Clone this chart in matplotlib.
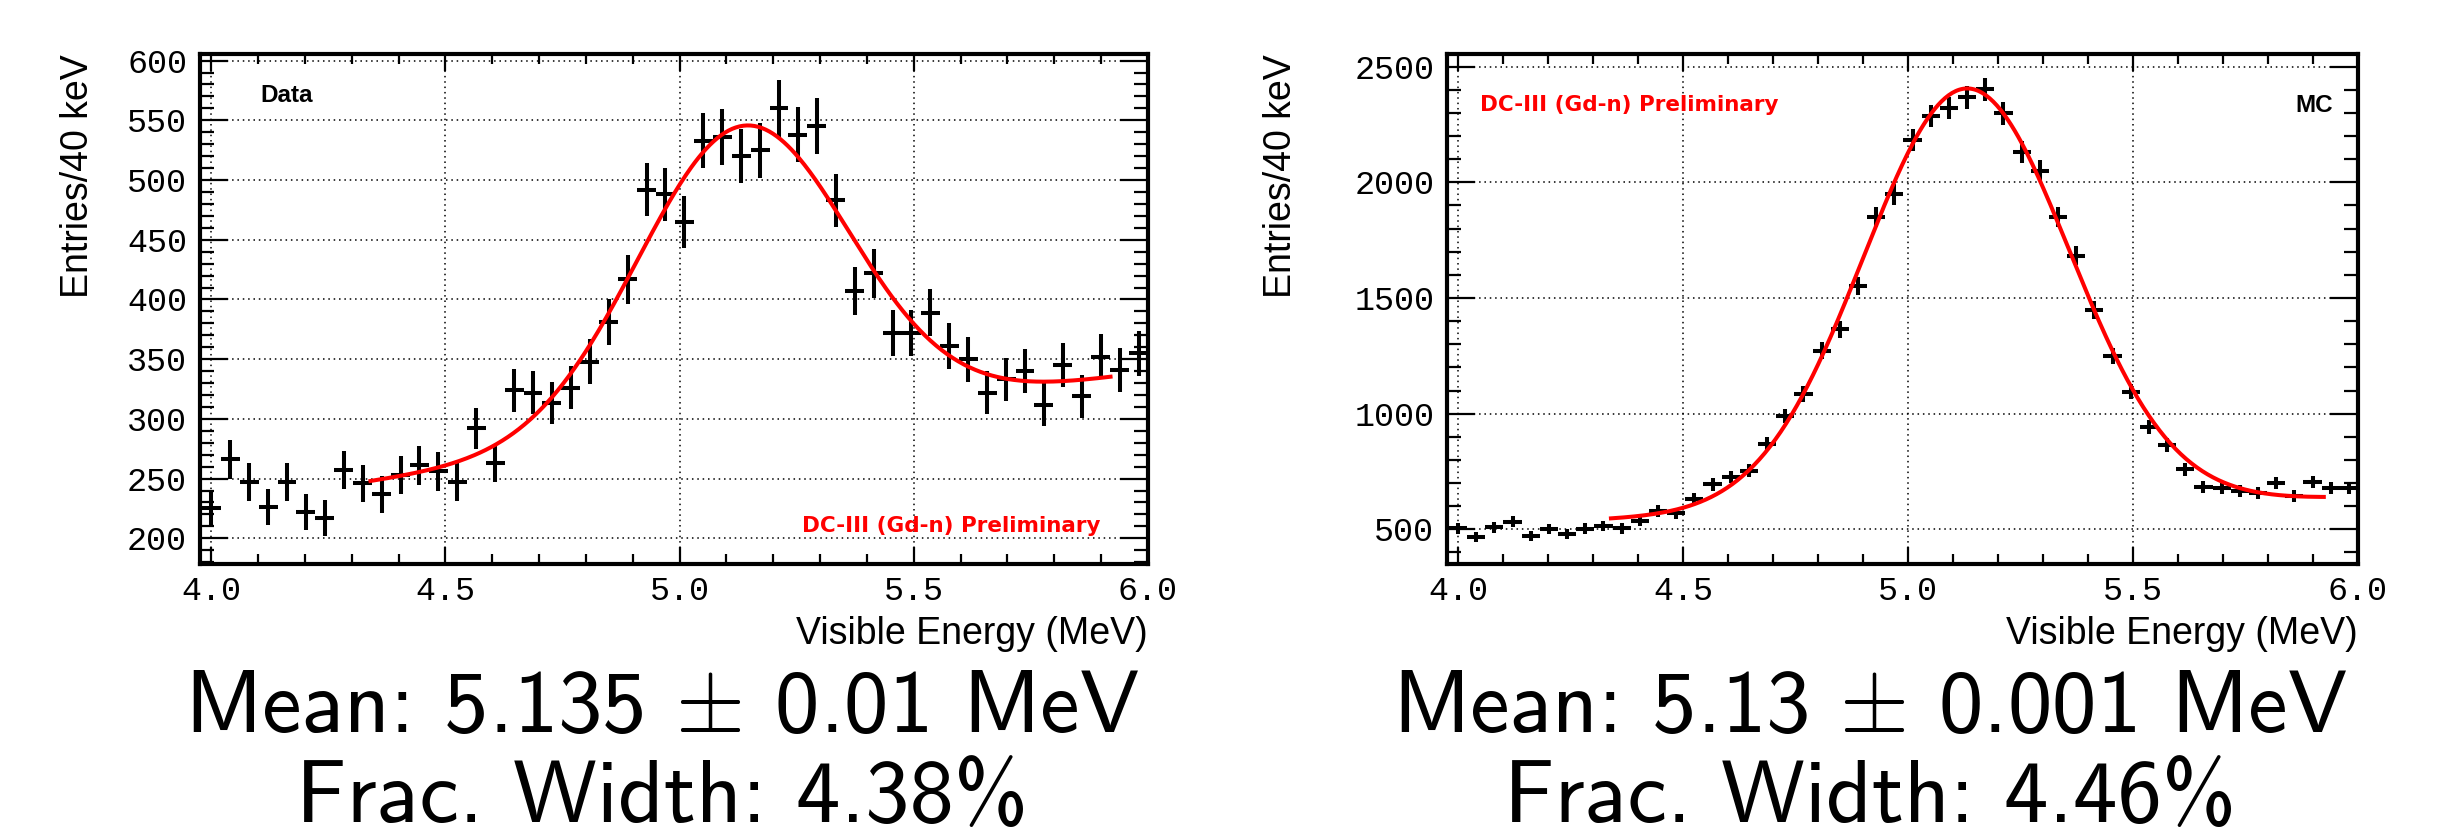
import numpy as np
import matplotlib
matplotlib.use('Agg')
import matplotlib.pyplot as plt
from matplotlib.ticker import MultipleLocator

# Figure size in pixels (saved at 100 dpi)
W, H = 2437, 836
DPI = 100

# Histogram binning: 40 keV bins
BIN_LO, BIN_HI, N_BINS = 3.98, 6.0, 50

# Entries per bin
DATA_COUNTS = [225, 266, 247, 226, 247, 222, 217, 257, 246, 237,
               253, 261, 256, 247, 292, 263, 324, 322, 313, 326,
               348, 381, 417, 492, 488, 465, 533, 536, 520, 525,
               560, 538, 545, 483, 407, 422, 372, 372, 389, 361,
               350, 322, 333, 340, 312, 345, 319, 352, 341, 355]
MC_COUNTS = [504, 468, 508, 533, 471, 500, 480, 503, 514, 504,
             536, 579, 569, 630, 694, 727, 753, 869, 990, 1085,
             1272, 1364, 1552, 1849, 1948, 2183, 2287, 2320, 2368, 2402,
             2298, 2132, 2050, 1851, 1682, 1448, 1249, 1095, 941, 864,
             759, 684, 677, 667, 656, 701, 644, 706, 677, 677]

# Fit results: gaussian + linear background
DATA_MEAN, DATA_MEAN_ERR, DATA_FRAC_WIDTH = 5.135, 0.01, 4.38
MC_MEAN, MC_MEAN_ERR, MC_FRAC_WIDTH = 5.13, 0.001, 4.46
DATA_AMP, DATA_BG0, DATA_BG1 = 254, 291.4, 55.2
MC_AMP, MC_BG0, MC_BG1 = 1817, 589, 58.7
DATA_FIT_RANGE = (4.34, 5.92)
MC_FIT_RANGE = (4.34, 5.924)

X_LIM = (3.975, 6.0)
DATA_Y_LIM = (178.5, 605.5)
MC_Y_LIM = (350, 2555)


def px(x, y):
    """pixel coords (from top-left) -> figure fraction"""
    return x / W, 1 - y / H


def fit_curve(lo, hi, mean, frac_width, amp, bg0, bg1):
    e = np.linspace(lo, hi, 400)
    sigma = frac_width / 100 * mean
    return e, amp * np.exp(-0.5 * ((e - mean) / sigma) ** 2) + bg0 + bg1 * (e - mean)


def draw_panel(ax, counts, ylim, ymajor, yminor, fit):
    edges = np.linspace(BIN_LO, BIN_HI, N_BINS + 1)
    centers = 0.5 * (edges[1:] + edges[:-1])
    half = 0.5 * (edges[1] - edges[0])
    counts = np.array(counts, dtype=float)
    ax.errorbar(centers, counts, xerr=half, yerr=np.sqrt(counts), fmt='none',
                ecolor='black', elinewidth=2.9, capsize=0, zorder=3)
    e, f = fit_curve(*fit)
    ax.plot(e, f, color='#ff0000', lw=2.9, zorder=4)

    ax.set_xlim(*X_LIM)
    ax.set_ylim(*ylim)
    ax.xaxis.set_major_locator(MultipleLocator(0.5))
    ax.xaxis.set_minor_locator(MultipleLocator(0.1))
    ax.yaxis.set_major_locator(MultipleLocator(ymajor))
    ax.yaxis.set_minor_locator(MultipleLocator(yminor))
    ax.xaxis.set_major_formatter(matplotlib.ticker.FormatStrFormatter('%.1f'))
    ax.yaxis.set_major_formatter(matplotlib.ticker.FormatStrFormatter('%d'))
    ax.grid(True, which='major', color='black', lw=1.1, linestyle=(0, (1, 2.5)))
    ax.set_axisbelow(True)
    ax.tick_params(which='both', direction='in', top=True, right=True,
                   width=1.6, labelsize=24, color='black')
    ax.tick_params(axis='x', which='major', length=12, pad=9)
    ax.tick_params(axis='x', which='minor', length=7)
    ax.tick_params(axis='y', which='major', length=20, pad=9)
    ax.tick_params(axis='y', which='minor', length=10)
    for lbl in ax.get_xticklabels() + ax.get_yticklabels():
        lbl.set_fontfamily('Liberation Mono')
    for sp in ax.spines.values():
        sp.set_linewidth(3.0)


plt.rcParams['font.family'] = ['Liberation Sans', 'DejaVu Sans']
plt.rcParams['mathtext.fontset'] = 'cm'

fig = plt.figure(figsize=(W / DPI, H / DPI), dpi=DPI, facecolor='white')

ax1 = fig.add_axes([199.5 / W, 1 - 564 / H, (1148 - 199.5) / W, (564 - 54) / H])
ax2 = fig.add_axes([1446.7 / W, 1 - 564 / H, (2358 - 1446.7) / W, (564 - 54) / H])

draw_panel(ax1, DATA_COUNTS, DATA_Y_LIM, 50, 10,
           (*DATA_FIT_RANGE, DATA_MEAN, DATA_FRAC_WIDTH, DATA_AMP, DATA_BG0, DATA_BG1))
draw_panel(ax2, MC_COUNTS, MC_Y_LIM, 500, 100,
           (*MC_FIT_RANGE, MC_MEAN, MC_FRAC_WIDTH, MC_AMP, MC_BG0, MC_BG1))

# axis titles (ROOT style: right / top aligned)
for xr, yl in [(1148, 78), (2358, 1281)]:
    fig.text(*px(xr, 644), 'Visible Energy (MeV)', ha='right', va='baseline', fontsize=27)
    fig.text(*px(yl, 54), 'Entries/40 keV', rotation=90, ha='center', va='top', fontsize=27)

# labels inside the frames
fig.text(*px(260, 101.7), 'Data', fontsize=17.5, fontweight='bold', ha='left', va='baseline')
fig.text(*px(2333, 111.7), 'MC', fontsize=17.5, fontweight='bold', ha='right', va='baseline')
for x0, y0 in [(802, 531.7), (1480, 110.7)]:
    fig.text(*px(x0, y0), 'DC-III (Gd-n) Preliminary', color='#ff0000', fontsize=15.5,
             fontweight='bold', family='DejaVu Sans', ha='left', va='baseline')

# fit summaries below the panels
for xc, mean, err, fw in [(662, DATA_MEAN, DATA_MEAN_ERR, DATA_FRAC_WIDTH),
                          (1870, MC_MEAN, MC_MEAN_ERR, MC_FRAC_WIDTH)]:
    fig.text(*px(xc, 731.7), f'Mean: {mean:g} $\\pm$ {err:g} MeV', family='cmss10',
             fontsize=64, ha='center', va='baseline')
    fig.text(*px(xc, 822), f'Frac. Width: {fw:g}%', family='cmss10',
             fontsize=64, ha='center', va='baseline')

fig.savefig('out.png', dpi=DPI, facecolor='white')
